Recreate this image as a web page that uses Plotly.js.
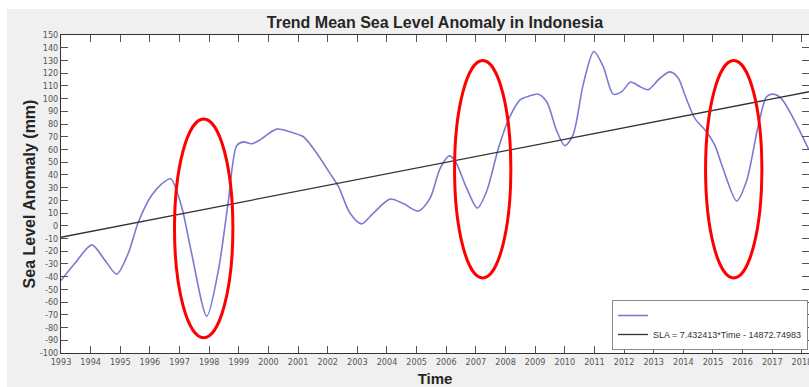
<!DOCTYPE html>
<html>
<head>
<meta charset="utf-8">
<script src="https://cdn.plot.ly/plotly-3.0.1.min.js"></script>
<style>
  html, body { margin: 0; padding: 0; background: #ffffff; }
  #wrap { position: relative; width: 809px; height: 387px; overflow: hidden; }
  #figbg { position: absolute; left: 7px; top: 9px; right: 0; bottom: 0; background: #f0f0f0; }
  #chart { position: absolute; left: 0; top: 0; width: 809px; height: 387px; }
</style>
</head>
<body>
<div id="wrap">
  <div id="figbg"></div>
  <div id="chart"></div>
</div>
<script>
// Monthly-smoothed sea level anomaly over Indonesia (mm)
const slaTime = [
  1993.0, 1993.47, 1994.04, 1994.48, 1994.88, 1995.27, 1995.61, 1996.06, 1996.4, 1996.7,
  1997.07, 1997.41, 1997.92, 1998.31, 1998.64, 1998.93, 1999.15, 1999.43, 1999.71, 2000.28,
  2000.84, 2001.18, 2001.63, 2002.08, 2002.36, 2002.75, 2003.14, 2003.54, 2004.1, 2004.55,
  2005.05, 2005.45, 2005.79, 2006.1, 2006.3, 2006.69, 2007.05, 2007.36, 2007.76, 2008.09,
  2008.49, 2008.8, 2009.1, 2009.39, 2009.72, 2010.0, 2010.28, 2010.62, 2010.98, 2011.3,
  2011.63, 2011.92, 2012.22, 2012.53, 2012.81, 2013.21, 2013.55, 2013.83, 2014.05, 2014.39,
  2014.78, 2015.06, 2015.34, 2015.8, 2016.13, 2016.53, 2016.81, 2017.03, 2017.31, 2017.71,
  2018.24
];
const slaValue = [
  -43, -29.5, -15, -27, -38, -21.6, 3, 24, 33, 37,
  15, -22, -71, -35, 18, 63, 66, 64.5, 67.5, 76,
  73, 70, 57, 41, 31, 10, 1.5, 10, 21, 17.5,
  11.5, 21.5, 45, 55, 51, 29.5, 14, 27, 61, 83,
  99, 102, 103.5, 97.5, 75, 63, 71.5, 111, 137, 125,
  103.5, 105.5, 113, 109.5, 107, 116, 121, 116, 103, 84.5,
  74, 63.5, 45, 19.5, 35, 79, 101.5, 103.5, 100, 84.5,
  59.6
];

// Linear trend end points
const trendTime = [1993.0, 2018.24];
const trendValue = [-9, 105.4];
const trendLabel = 'SLA = 7.432413*Time - 14872.74983';

// Axis ticks
const yearTicks = [];
for (let yr = 1993; yr <= 2018; yr++) yearTicks.push(yr);
const slaTicks = [];
for (let v = -100; v <= 150; v += 10) slaTicks.push(v);

// El Nino events highlighted on the series: [start, end, low, high]
const eventBoxes = [
  [1996.83, 1998.80, -88, 84],
  [2006.28, 2008.18, -41, 130],
  [2014.75, 2016.65, -41, 130]
];

const tickFont = { family: 'Liberation Sans Narrow, DejaVu Sans Condensed, Liberation Sans, Arial, sans-serif', size: 9, color: '#555555' };
const boldFont = (s) => ({ family: 'Liberation Sans, Arial, sans-serif', size: s, color: '#262626', weight: 'bold' });

const traces = [
  {
    x: slaTime, y: slaValue, type: 'scatter', mode: 'lines', name: '',
    line: { color: '#7a7ad0', width: 1.6, shape: 'spline', smoothing: 0.8 }
  },
  {
    x: trendTime, y: trendValue, type: 'scatter', mode: 'lines', name: trendLabel,
    line: { color: '#333333', width: 1.3 }
  }
];

const shapes = eventBoxes.map(b => ({
  type: 'circle', xref: 'x', yref: 'y',
  x0: b[0], x1: b[1], y0: b[2], y1: b[3],
  line: { color: '#ff0000', width: 3 }, layer: 'above'
}));

const layout = {
  width: 809, height: 387,
  margin: { l: 61, r: 0, t: 35, b: 34 },
  paper_bgcolor: 'rgba(0,0,0,0)',
  plot_bgcolor: '#ffffff',
  showlegend: true,
  title: {
    text: 'Trend Mean Sea Level Anomaly in Indonesia',
    font: boldFont(16),
    x: 0.5, xref: 'paper', xanchor: 'center',
    y: 1 - 22 / 387, yref: 'container', yanchor: 'middle'
  },
  xaxis: {
    range: [1993, 2018.24],
    tickmode: 'array', tickvals: yearTicks, ticktext: yearTicks.map(String),
    ticks: 'inside', ticklen: 7, tickcolor: '#555555', tickwidth: 1,
    ticklabeloverflow: 'allow',
    showline: true, linecolor: '#333333', linewidth: 1, mirror: 'ticks',
    showgrid: false, zeroline: false,
    tickfont: tickFont,
    title: { text: 'Time', font: boldFont(15), standoff: 14 }
  },
  yaxis: {
    range: [-100, 150],
    tickmode: 'array', tickvals: slaTicks, ticktext: slaTicks.map(String),
    ticks: 'inside', ticklen: 7, tickcolor: '#555555', tickwidth: 1,
    showline: true, linecolor: '#333333', linewidth: 1, mirror: 'ticks',
    showgrid: false, zeroline: false,
    tickfont: tickFont,
    title: { text: 'Sea Level Anomaly (mm)', font: boldFont(16), standoff: 0 }
  },
  legend: {
    x: (612 - 61) / 748, xanchor: 'left',
    y: (353 - 300) / 318, yanchor: 'top',
    bgcolor: '#ffffff', bordercolor: '#8a8a8a', borderwidth: 1,
    font: { family: 'Liberation Sans, Arial, sans-serif', size: 9, color: '#333333' },
    itemwidth: 30
  },
  shapes: shapes
};

Plotly.newPlot('chart', traces, layout, { displayModeBar: false, staticPlot: true });
</script>
</body>
</html>
